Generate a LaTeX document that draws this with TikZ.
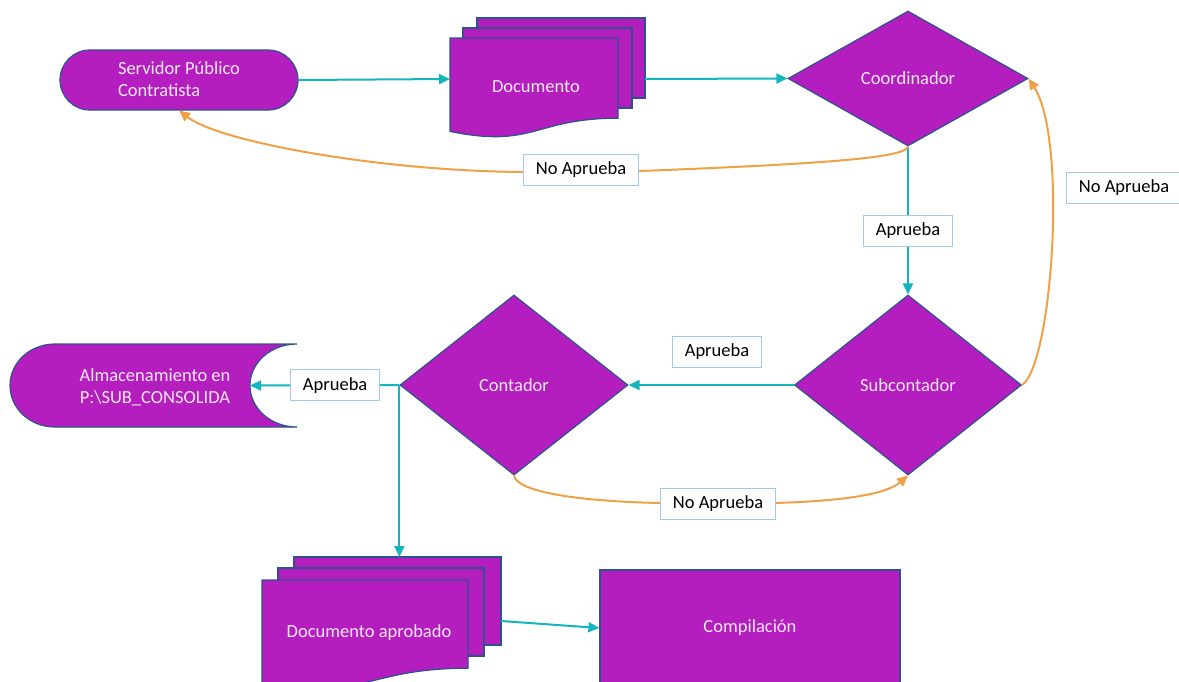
\documentclass[tikz,border=0pt]{standalone}
\usepackage{fontspec}
\setmainfont{Carlito}
\usetikzlibrary{shapes.geometric,shapes.misc,arrows.meta}
\definecolor{pfill}{RGB}{180,30,190}
\definecolor{pdraw}{RGB}{47,82,143}
\definecolor{ptext}{RGB}{248,232,248}
\definecolor{tealc}{RGB}{20,182,190}
\definecolor{orng}{RGB}{240,160,70}
\definecolor{lblue}{RGB}{160,200,240}
\newcommand\mydocshape[4]{%
  \path[shapestyle] (#1,#2) -- ({#1+#3},#2) -- ({#1+#3},{#2+0.802*#4})
    .. controls ({#1+0.5*#3},{#2+0.802*#4}) and ({#1+0.5*#3},{#2+1.107*#4}) .. (#1,{#2+0.934*#4}) -- cycle;}
\newcommand\mypage[4]{\path[shapestyle] (#1,#2) rectangle ({#1+#3},{#2+#4});}
\begin{document}
\begin{tikzpicture}[x=1pt,y=-1pt,font=\fontsize{18.5}{22}\selectfont,
  shapestyle/.style={fill=pfill,draw=pdraw,line width=1.2pt},
  intext/.style={text=ptext,inner sep=0pt,align=center},
  dia/.style={shapestyle,diamond,inner sep=0pt,text=ptext},
  lbl/.style={draw=lblue,fill=white,line width=1.2pt,text=black,inner xsep=12.5pt,inner ysep=0pt,minimum height=31pt},
  yes/.style={draw=tealc,line width=2pt,-{Triangle[length=11pt,width=10pt]}},
  no/.style={draw=orng,line width=2pt,-{Triangle[length=11pt,width=10pt]}},
  hidden/.style={inner sep=0pt,outer sep=0pt,draw=none}]
\useasboundingbox (0,0) rectangle (1179,681);
\fill[white] (0,0) rectangle (1179,681);
\clip (0,0) rectangle (1179,681);

% terminator
\node (term) [shapestyle,rounded rectangle,minimum width=238pt,minimum height=60pt,inner sep=0pt] at (179,80) {};
\node (termtext) [intext,align=left] at (179,79) {Servidor Público\\Contratista};

% document stack 1
\mypage{477}{18}{168}{80}
\mypage{463}{28}{169}{80}
\mydocshape{450}{38}{168}{100}
\node (doc) [hidden,minimum width=195pt,minimum height=120pt] at (547.5,79) {};
\node (doctext) [intext] at (536,87) {Documento};

% diamonds
\node (coord) [dia,minimum width=240pt,minimum height=135pt] at (908,78.5) {Coordinador};
\node (sub) [dia,minimum width=227pt,minimum height=180pt] at (908,385) {Subcontador};
\node (cont) [dia,minimum width=228pt,minimum height=180pt] at (514,385) {Contador};

% storage
\path[shapestyle] (297,344) .. controls (271,344) and (250,362.5) .. (250,385.5)
  .. controls (250,408.5) and (271,427) .. (297,427) -- (55,427)
  .. controls (30,427) and (10,408.5) .. (10,385.5)
  .. controls (10,362.5) and (30,344) .. (55,344) -- cycle;
\node (stor) [hidden,minimum width=240pt,minimum height=83pt] at (130,385.5) {};
\node (stortext) [intext] at (155,387) {Almacenamiento en\\P:\textbackslash SUB\_CONSOLIDA};

% document stack 2
\mypage{294}{557}{207}{88}
\mypage{278}{568}{206}{88}
\mydocshape{262}{580}{206}{110}
\node (doc2) [hidden,minimum width=239pt,minimum height=128pt] at (381.5,621) {};
\node (doc2text) [intext] at (369,633) {Documento aprobado};

% compilation
\node (comp) [shapestyle,rectangle,minimum width=300pt,minimum height=116pt,inner sep=0pt,text=ptext] at (750,628) {Compilación};

% teal connectors
\draw[yes] (term.east) -- (doc.west);
\draw[yes] (doc.east) -- (coord.west);
\draw[yes] (coord.south) -- node (ap1) [lbl,pos=0.57] {Aprueba} (sub.north);
\draw[yes] (sub.west) -- (cont.east);
\node (ap2) [lbl] at (717,352) {Aprueba};
\draw[yes] (cont.west) -- node (ap3) [lbl,pos=0.43] {Aprueba} (stor.east);
\draw[yes] (cont.west) -- (cont.west |- doc2.north);
\draw[yes] (doc2.east) -- (comp.west);

% orange connectors
\draw[no] (coord.south) .. controls (906,158) and (820,164) .. (640,171) -- (523,172)
  .. controls (380,171) and (220,142) .. (term.south);
\node (na1) [lbl] at (581,170) {No Aprueba};
\draw[no] (sub.east) .. controls (1052,365) and (1068,140) .. (coord.east);
\node (na2) [lbl] at (1124,188) {No Aprueba};
\draw[no] (cont.south) .. controls (518,495) and (600,502) .. (661,503) -- (775,503)
  .. controls (840,501) and (885,495) .. (sub.south);
\node (na3) [lbl] at (718,504) {No Aprueba};
\end{tikzpicture}
\end{document}
